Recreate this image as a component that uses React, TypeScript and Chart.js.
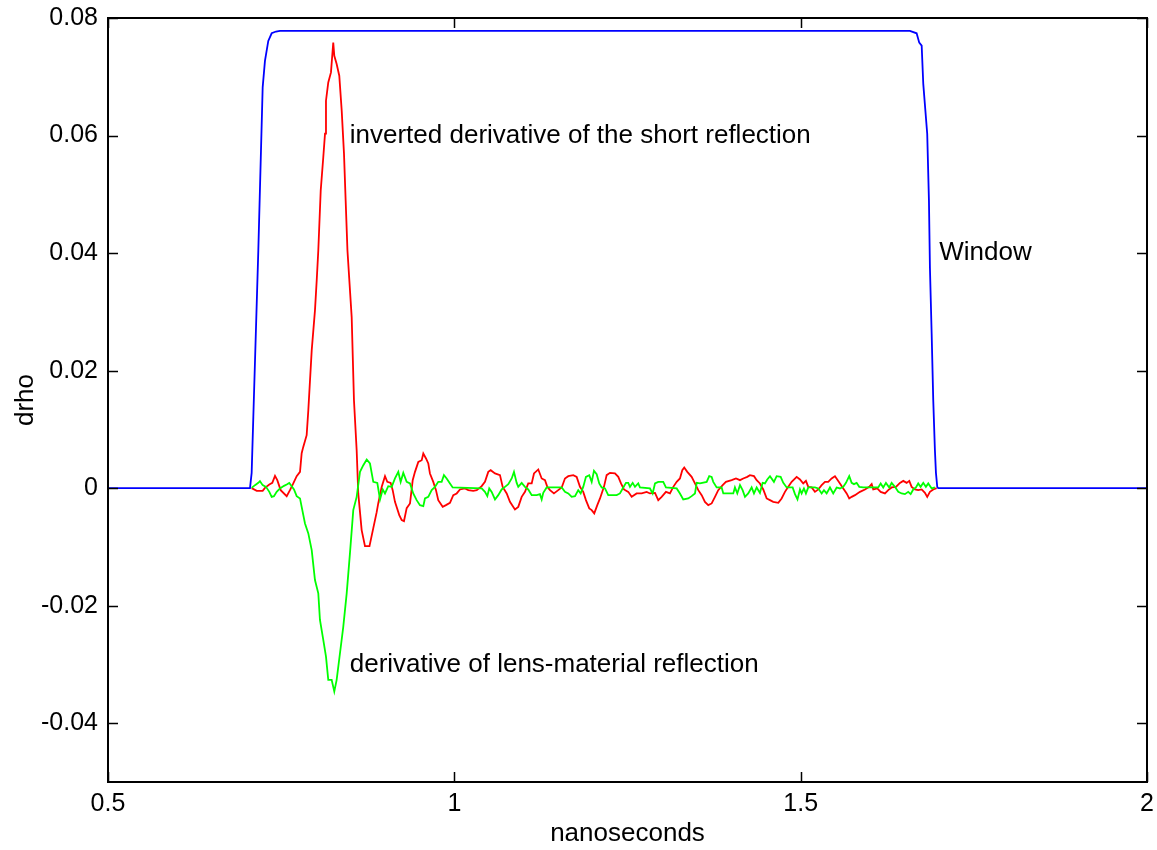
import React, { useEffect, useRef } from "react";
import { Chart, registerables } from "chart.js";

Chart.register(...registerables);

// ---- data (x in nanoseconds, y in drho) ----
const windowTrace: [number, number][] = [
  [0.5, 0], [0.705, 0], [0.7074, 0.0026], [0.7098, 0.0121], [0.717, 0.0404],
  [0.7233, 0.0682], [0.7266, 0.0727], [0.7314, 0.0761], [0.7363, 0.0774],
  [0.7425, 0.0777], [0.7483, 0.0778], [1.6577, 0.0778], [1.6674, 0.0774],
  [1.6712, 0.0758], [1.6747, 0.0753], [1.677, 0.0688], [1.6827, 0.0603],
  [1.6852, 0.0489], [1.6866, 0.0376], [1.6891, 0.0263], [1.6914, 0.0150],
  [1.6938, 0.0065], [1.6953, 0.0026], [1.6972, 0.0002], [1.6986, 0], [2, 0],
];

const shortReflection: [number, number][] = [
  [0.7074, 0], [0.7147, -0.00046], [0.7233, -0.00046], [0.7266, 0.00005], [0.7329, 0.00063],
  [0.7372, 0.0009], [0.7411, 0.00209], [0.7444, 0.00136], [0.7493, -0.00034], [0.758, -0.00136],
  [0.7627, -0.00034], [0.7675, 0.0008], [0.7724, 0.00204], [0.7772, 0.00277], [0.7796, 0.00595],
  [0.7819, 0.00702], [0.7868, 0.00901], [0.7892, 0.01325], [0.7941, 0.02345], [0.7988, 0.03025],
  [0.8013, 0.03534], [0.8036, 0.04044], [0.8071, 0.05064], [0.8108, 0.0563], [0.8133, 0.06032],
  [0.8147, 0.06593], [0.818, 0.06904], [0.8219, 0.07074], [0.8252, 0.07584], [0.8267, 0.07358],
  [0.8301, 0.07217], [0.8339, 0.07018], [0.8374, 0.06423], [0.8407, 0.05692], [0.8431, 0.04894],
  [0.8457, 0.04044], [0.8518, 0.02911], [0.8551, 0.01495], [0.859, 0.00646], [0.8613, -0.0009],
  [0.8662, -0.00714], [0.871, -0.00986], [0.8775, -0.00986], [0.883, -0.0068], [0.8879, -0.00408],
  [0.8902, -0.00255], [0.8951, 0.00022], [0.8999, 0.00204], [0.9032, 0.00107], [0.9081, 0.0009],
  [0.911, -0.00034], [0.9143, -0.00233], [0.9205, -0.00459], [0.924, -0.00544], [0.9273, -0.00561],
  [0.9312, -0.0034], [0.936, -0.0026], [0.9399, 0.00136], [0.9432, 0.00277], [0.948, 0.00447],
  [0.9529, 0.00476], [0.9552, 0.0059], [0.9591, 0.00505], [0.9624, 0.0042], [0.9648, 0.0025],
  [0.9696, 0.00107], [0.9735, -0.00034], [0.9768, -0.00204], [0.9832, -0.00318], [0.9879, -0.00289],
  [0.9937, -0.0025], [0.9985, -0.00119], [1.0034, -0.0009], [1.0081, -0.00022], [1.0154, -0.00005],
  [1.0201, -0.00034], [1.0273, -0.00046], [1.0323, -0.00034], [1.0395, 0.00034], [1.0442, 0.00107],
  [1.049, 0.00277], [1.0525, 0.00306], [1.0587, 0.0025], [1.0659, 0.00221], [1.0698, 0.00022],
  [1.0756, -0.0009], [1.0803, -0.00233], [1.0875, -0.00362], [1.0923, -0.00318], [1.0972, -0.00148],
  [1.102, -0.00063], [1.1067, 0.0008], [1.1117, 0.0008], [1.115, 0.0025], [1.1212, 0.00318],
  [1.1261, 0.00165], [1.1309, 0.00136], [1.1342, 0.00022], [1.1381, -0.00034], [1.1438, -0.0009],
  [1.15, -0.00034], [1.155, 0.00012], [1.1597, 0.00165], [1.1645, 0.00204], [1.1717, 0.00221],
  [1.1766, 0.00192], [1.1814, 0.00022], [1.1861, -0.00063], [1.19, -0.00204], [1.1948, -0.00345],
  [1.1983, -0.00374], [1.202, -0.0043], [1.2064, -0.00289], [1.2103, -0.00175], [1.216, 0.00022],
  [1.2199, 0.00221], [1.2247, 0.0026], [1.2319, 0.0025], [1.2367, 0.00192], [1.2406, 0.0008],
  [1.2449, -0.00022], [1.2511, -0.00063], [1.256, -0.00148], [1.2632, -0.0009], [1.2704, -0.0009],
  [1.2777, -0.00063], [1.2824, -0.0009], [1.2897, -0.0008], [1.2944, -0.00204], [1.2993, -0.00148],
  [1.3055, -0.00063], [1.3113, -0.0009], [1.3161, 0.00022], [1.321, 0.00107], [1.3257, 0.00165],
  [1.3291, 0.00306], [1.3319, 0.00352], [1.3363, 0.00277], [1.3426, 0.00192], [1.3474, 0.0008],
  [1.3522, -0.00034], [1.3571, -0.00119], [1.3618, -0.00233], [1.3666, -0.00289], [1.3715, -0.0026],
  [1.3763, -0.00148], [1.381, -0.00034], [1.3874, 0.00051], [1.3921, 0.00107], [1.4004, 0.00136],
  [1.4066, 0.00165], [1.4124, 0.00136], [1.4171, 0.00165], [1.4229, 0.00192], [1.4268, 0.00221],
  [1.4326, 0.00204], [1.4365, 0.00136], [1.4412, 0.0008], [1.446, -0.00022], [1.4509, -0.00175],
  [1.4557, -0.00204], [1.4604, -0.00233], [1.4677, -0.0025], [1.4725, -0.00175], [1.4773, -0.00063],
  [1.4821, 0.00022], [1.487, 0.00107], [1.4942, 0.00192], [1.499, 0.00148], [1.5037, 0.0008],
  [1.5076, 0.00124], [1.511, 0.00022], [1.5159, 0.00012], [1.5206, -0.00063], [1.5254, -0.00022],
  [1.5303, 0.00051], [1.5351, 0.00107], [1.5398, 0.00107], [1.5447, 0.00165], [1.5495, 0.00204],
  [1.5528, 0.00148], [1.5567, 0.0008], [1.5615, -0.00005], [1.5664, -0.0009], [1.5701, -0.00175],
  [1.5736, -0.00148], [1.5784, -0.00119], [1.5856, -0.00063], [1.5928, -0.00022], [1.599, 0.00022],
  [1.6025, 0.00068], [1.6048, -0.00022], [1.6106, -0.00005], [1.6155, -0.00063], [1.6217, -0.0009],
  [1.6264, -0.00034], [1.6313, 0.00012], [1.6376, 0.00022], [1.6433, 0.0009], [1.6481, 0.00124],
  [1.653, 0.0009], [1.6568, 0.00124], [1.6602, 0.00022], [1.665, -0.00022], [1.6697, -0.00034],
  [1.6747, -0.00022], [1.6794, -0.0008], [1.6827, -0.00148], [1.6866, -0.00063], [1.6914, -0.00022],
  [1.6963, 0],
];

const lensReflection: [number, number][] = [
  [0.7074, 0.00005], [0.7122, 0.00051], [0.717, 0.0009], [0.7194, 0.00119], [0.7233, 0.00051],
  [0.7281, 0.00022], [0.7329, -0.00063], [0.7363, -0.00148], [0.7396, -0.00136], [0.7435, -0.00063],
  [0.7483, -0.00005], [0.7541, 0.00039], [0.758, 0.00063], [0.7617, 0.0009], [0.7652, 0.00034],
  [0.7685, -0.00022], [0.7724, -0.00136], [0.7772, -0.00175], [0.7796, -0.00318], [0.7844, -0.006],
  [0.7892, -0.0077], [0.7941, -0.01054], [0.7988, -0.01563], [0.8036, -0.01789], [0.806, -0.02243],
  [0.8108, -0.02583], [0.8147, -0.02867], [0.818, -0.03262], [0.8229, -0.03262], [0.8267, -0.03461],
  [0.8301, -0.03262], [0.8349, -0.02809], [0.8397, -0.02357], [0.8446, -0.01789], [0.8493, -0.0111],
  [0.8541, -0.00374], [0.859, -0.00148], [0.8638, 0.00277], [0.8686, 0.00391], [0.8735, 0.00488],
  [0.8782, 0.0042], [0.883, 0.00107], [0.8888, 0.0009], [0.8927, -0.00192], [0.8966, -0.00022],
  [0.8999, -0.0009], [0.9046, 0.00034], [0.9095, 0.00022], [0.9143, 0.00165], [0.9191, 0.00277],
  [0.9225, 0.00107], [0.9263, 0.0026], [0.9312, 0.00107], [0.936, 0.0008], [0.9407, -0.0009],
  [0.9456, -0.00204], [0.9504, -0.00289], [0.9552, -0.00306], [0.9576, -0.00175], [0.9624, -0.00148],
  [0.9673, -0.00034], [0.9721, 0.00022], [0.9768, 0.00107], [0.9817, 0.00107], [0.985, 0.00221],
  [0.9889, 0.00165], [0.9937, 0.0008], [0.9976, 0.00012], [1.0395, -0.00005], [1.0442, -0.00063],
  [1.0476, -0.00136], [1.0504, -0.00005], [1.0539, -0.00063], [1.0587, -0.00192], [1.0634, -0.00119],
  [1.0683, -0.00022], [1.0731, 0.00022], [1.0779, 0.00068], [1.0828, 0.00165], [1.0861, 0.00277],
  [1.09, 0.0009], [1.0923, 0.00022], [1.0972, 0.0009], [1.102, 0.00022], [1.1067, -0.00022],
  [1.1117, -0.00119], [1.1189, -0.00119], [1.1236, -0.00102], [1.1261, -0.00192], [1.1284, -0.0008],
  [1.1333, 0.00012], [1.155, 0.00012], [1.1597, -0.00063], [1.1645, -0.0009], [1.1694, -0.00148],
  [1.1742, -0.00136], [1.1789, -0.00034], [1.1824, -0.0009], [1.1861, 0.00022], [1.19, 0.00192],
  [1.1948, 0.00221], [1.1983, 0.00107], [1.2016, 0.00294], [1.2055, 0.00238], [1.2092, 0.0008],
  [1.2127, 0.00012], [1.2175, -0.00005], [1.2222, -0.00119], [1.2344, -0.00119], [1.2391, -0.0009],
  [1.2439, 0.00012], [1.2478, 0.0009], [1.2511, 0.0009], [1.2536, 0.00022], [1.2575, 0.0009],
  [1.2608, 0.00022], [1.2655, 0.0008], [1.268, 0.00012], [1.2824, -0.00005], [1.2863, -0.0009],
  [1.2897, 0.0008], [1.2944, 0.00107], [1.3016, 0.00107], [1.3055, 0.00012], [1.321, -0.00005],
  [1.3257, -0.0009], [1.3305, -0.00192], [1.3377, -0.00175], [1.3426, -0.00136], [1.3474, -0.0009],
  [1.3499, 0.0009], [1.3546, 0.0008], [1.3643, 0.00107], [1.368, 0.00204], [1.3715, 0.00192],
  [1.3738, 0.00107], [1.3787, 0.00012], [1.3859, 0.00012], [1.3883, -0.0009], [1.4027, -0.0009],
  [1.4051, 0.00012], [1.4085, -0.0009], [1.4124, 0.00051], [1.4162, -0.00034], [1.4196, -0.00148],
  [1.4243, -0.0009], [1.4292, 0.00012], [1.4326, -0.0009], [1.4365, 0.00012], [1.4412, -0.0008],
  [1.4451, 0.0009], [1.4484, 0.0008], [1.4518, 0.00148], [1.4557, 0.00204], [1.4614, 0.00107],
  [1.4653, 0.00204], [1.4711, 0.00192], [1.4749, 0.0009], [1.4798, 0.00012], [1.4884, 0.00012],
  [1.4918, -0.00102], [1.4954, -0.00192], [1.499, -0.00022], [1.5014, -0.0009], [1.5047, -0.00005],
  [1.5076, -0.0009], [1.511, 0.00012], [1.5206, 0.00012], [1.5254, -0.00005], [1.5303, -0.0009],
  [1.5336, -0.00034], [1.5375, -0.0009], [1.5423, 0.00012], [1.547, -0.0009], [1.552, 0.00012],
  [1.5567, -0.00005], [1.5615, 0.00022], [1.5654, 0.0009], [1.5701, 0.00204], [1.5736, 0.0009],
  [1.5769, 0.00068], [1.5808, 0.0009], [1.5846, 0.00022], [1.5903, 0.00012], [1.612, 0.00012],
  [1.6155, 0.0008], [1.6192, 0.00012], [1.6231, 0.0009], [1.6279, 0.00012], [1.6313, 0.0009],
  [1.6361, 0.00022], [1.6409, -0.00063], [1.6458, -0.0009], [1.6505, -0.00102], [1.6553, -0.00063],
  [1.6588, -0.00102], [1.6625, -0.00022], [1.6664, 0.00012], [1.6697, 0.0008], [1.6732, 0.00022],
  [1.677, 0.0009], [1.6808, 0.00022], [1.6842, 0.0008], [1.6891, -0.00005], [1.6938, 0.00012],
];

const xTickValues = [0.5, 1, 1.5, 2];
const xTickLabels = ["0.5", "1", "1.5", "2"];
const yTickValues = [-0.04, -0.02, 0, 0.02, 0.04, 0.06, 0.08];
const yTickLabels = ["-0.04", "-0.02", "0", "0.02", "0.04", "0.06", "0.08"];

const annotationTexts = [
  "inverted derivative of the short reflection",
  "derivative of lens-material reflection",
  "Window",
];
const annotationX = [0.849, 0.849, 1.7];
const annotationY = [0.06, -0.03, 0.04];

const FONT = '"Liberation Sans", Arial, Helvetica, sans-serif';
const TICK_FONT_SIZE = 25;
const TEXT_FONT_SIZE = 26;
const TICK_LEN = 10;

const toPoints = (arr: [number, number][]) => arr.map(([x, y]) => ({ x, y }));

const framePlugin = {
  id: "matlabFrame",
  afterDatasetsDraw(chart: any) {
    const { ctx, chartArea: a, scales } = chart;
    const xs = scales.x;
    const ys = scales.y;
    ctx.save();
    ctx.strokeStyle = "#000";
    ctx.lineWidth = 1.5;
    ctx.beginPath();
    for (const v of yTickValues) {
      const py = Math.round(ys.getPixelForValue(v)) + 0.5;
      ctx.moveTo(a.left, py);
      ctx.lineTo(a.left + TICK_LEN, py);
      ctx.moveTo(a.right, py);
      ctx.lineTo(a.right - TICK_LEN, py);
    }
    for (const v of xTickValues) {
      const px = Math.round(xs.getPixelForValue(v)) + 0.5;
      ctx.moveTo(px, a.bottom);
      ctx.lineTo(px, a.bottom - TICK_LEN);
      ctx.moveTo(px, a.top);
      ctx.lineTo(px, a.top + TICK_LEN);
    }
    ctx.stroke();
    ctx.lineWidth = 2;
    ctx.strokeRect(a.left, a.top, a.right - a.left, a.bottom - a.top);

    ctx.fillStyle = "#000";
    ctx.font = `${TEXT_FONT_SIZE}px ${FONT}`;
    ctx.textAlign = "left";
    ctx.textBaseline = "middle";
    annotationTexts.forEach((t, i) => {
      ctx.fillText(t, xs.getPixelForValue(annotationX[i]), ys.getPixelForValue(annotationY[i]));
    });
    ctx.restore();
  },
};

export default function App() {
  const ref = useRef<HTMLCanvasElement | null>(null);

  useEffect(() => {
    if (!ref.current) return;
    const tickFont = { family: FONT, size: TICK_FONT_SIZE };
    const titleFont = { family: FONT, size: TEXT_FONT_SIZE };
    const chart = new Chart(ref.current, {
      type: "line",
      data: {
        datasets: [
          {
            label: "lens-material",
            data: toPoints(lensReflection),
            borderColor: "#00FF00",
            borderWidth: 1.8,
            pointRadius: 0,
            fill: false,
          },
          {
            label: "short",
            data: toPoints(shortReflection),
            borderColor: "#FF0000",
            borderWidth: 1.8,
            pointRadius: 0,
            fill: false,
          },
          {
            label: "Window",
            data: toPoints(windowTrace),
            borderColor: "#0000FF",
            borderWidth: 1.8,
            pointRadius: 0,
            fill: false,
          },
        ],
      },
      options: {
        animation: false,
        responsive: false,
        parsing: false as any,
        layout: { padding: { top: 18, right: 10, left: 0, bottom: 0 } },
        plugins: {
          legend: { display: false },
          tooltip: { enabled: false },
        },
        elements: { line: { tension: 0 } },
        scales: {
          x: {
            type: "linear",
            min: 0.5,
            max: 2,
            grid: { display: false, drawTicks: false },
            border: { display: false },
            afterBuildTicks: (s: any) => {
              s.ticks = xTickValues.map((v) => ({ value: v }));
            },
            afterFit: (s: any) => {
              s.height = 68;
              s.paddingLeft = 0;
              s.paddingRight = 0;
              s.paddingTop = 0;
              s.paddingBottom = 0;
            },
            ticks: {
              font: tickFont,
              color: "#000",
              padding: 7,
              maxRotation: 0,
              autoSkip: false,
              callback: (_v: any, i: number) => xTickLabels[i],
            },
            title: {
              display: true,
              text: "nanoseconds",
              font: titleFont,
              color: "#000",
              padding: { top: 0, bottom: 1 },
            },
          },
          y: {
            type: "linear",
            min: -0.05,
            max: 0.08,
            grid: { display: false, drawTicks: false },
            border: { display: false },
            afterBuildTicks: (s: any) => {
              s.ticks = yTickValues.map((v) => ({ value: v }));
            },
            afterFit: (s: any) => {
              s.width = 108;
              s.paddingLeft = 0;
              s.paddingRight = 0;
              s.paddingTop = 0;
              s.paddingBottom = 0;
            },
            ticks: {
              font: tickFont,
              color: "#000",
              padding: 10,
              autoSkip: false,
              callback: (_v: any, i: number) => yTickLabels[i],
            },
            title: {
              display: true,
              text: "drho",
              font: titleFont,
              color: "#000",
              padding: { top: 10, bottom: 0 },
            },
          },
        },
      },
      plugins: [framePlugin],
    });
    return () => chart.destroy();
  }, []);

  return (
    <div style={{ position: "fixed", left: 0, top: 0, width: 1157, height: 850, background: "#fff" }}>
      <canvas ref={ref} width={1157} height={850} style={{ display: "block" }} />
    </div>
  );
}
